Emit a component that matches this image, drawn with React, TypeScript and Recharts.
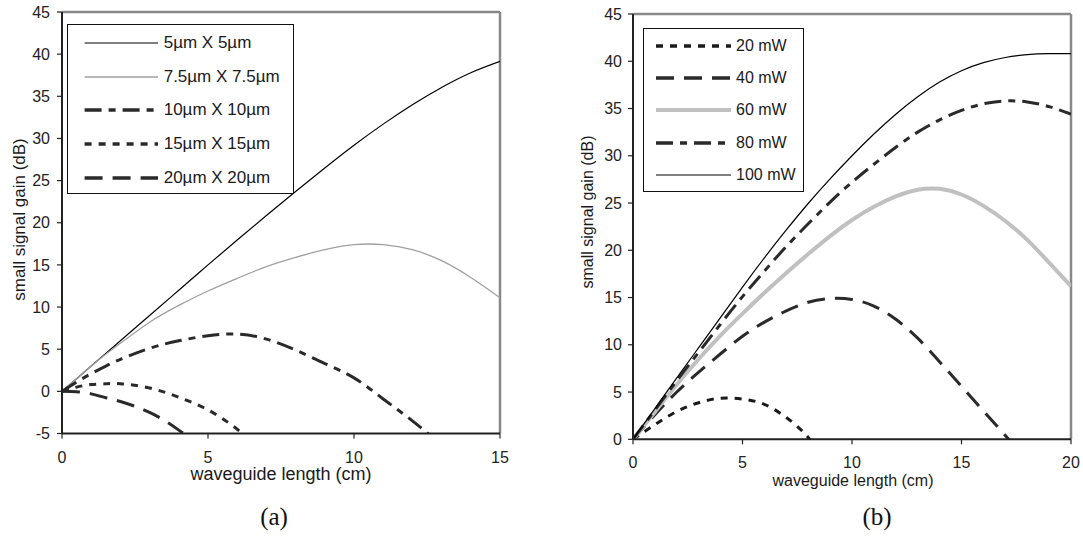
import React from 'react';
import { LineChart, Line, XAxis, YAxis, Legend, ReferenceLine } from 'recharts';

// ---------- Chart (a): gain vs waveguide length for several core sizes ----------
const lengthA = [0, 0.5, 1, 1.5, 2, 3, 4, 5, 6, 7, 8, 9, 10, 11, 12, 13, 14, 15];
const gain5um = [0, 1.5, 3.0, 4.5, 6.0, 9.0, 12.0, 15.0, 17.95, 20.85, 23.7, 26.5, 29.2, 31.7, 34.0, 36.05, 37.8, 39.15];
const gain7p5um = [0, 1.5, 3.0, 4.4, 5.7, 8.2, 10.2, 11.9, 13.4, 14.8, 15.9, 16.8, 17.4, 17.4, 16.8, 15.5, 13.5, 11.1];
const gain10um = [0, 1.1, 2.1, 3.0, 3.8, 5.1, 6.0, 6.6, 6.8, 6.2, 4.9, 3.3, 1.6, -0.9, -3.5, -6.4, null, null];
const gain15um = [0, 0.5, 0.8, 0.9, 0.9, 0.4, -0.7, -2.2, -4.5, -7.5, null, null, null, null, null, null, null, null];
const gain20um = [0, -0.05, -0.3, -0.75, -1.2, -2.5, -4.6, -7.2, null, null, null, null, null, null, null, null, null, null];
const namesA = ['5µm X 5µm', '7.5µm X 7.5µm', '10µm X 10µm', '15µm X 15µm', '20µm X 20µm'];
const xTicksA = [0, 5, 10, 15];
const yTicksA = [-5, 0, 5, 10, 15, 20, 25, 30, 35, 40, 45];

// ---------- Chart (b): gain vs waveguide length for several pump powers ----------
const lengthB = [0, 1, 2, 3, 4, 5, 6, 7, 8, 9, 10, 11, 12, 13, 14, 15, 16, 17, 18, 19, 20];
const gain20mW = [0, 1.55, 2.95, 3.87, 4.35, 4.26, 3.7, 2.3, 0.2, -3.0, null, null, null, null, null, null, null, null, null, null, null];
const gain40mW = [0, 2.6, 5.0, 7.1, 9.05, 10.9, 12.4, 13.6, 14.5, 14.9, 14.8, 14.1, 12.7, 10.7, 8.2, 5.6, 3.0, 0.4, -2.2, null, null];
const gain60mW = [0, 2.9, 5.8, 8.5, 11.0, 13.3, 15.5, 17.6, 19.6, 21.5, 23.2, 24.6, 25.7, 26.4, 26.5, 25.9, 24.7, 23.1, 21.1, 18.7, 16.2];
const gain80mW = [0, 3.1, 6.2, 9.2, 12.2, 15.1, 17.8, 20.4, 22.8, 25.1, 27.2, 29.1, 30.9, 32.5, 33.8, 34.8, 35.5, 35.8, 35.7, 35.2, 34.4];
const gain100mW = [0, 3.25, 6.5, 9.7, 12.9, 16.1, 19.2, 22.15, 24.95, 27.55, 30.0, 32.3, 34.4, 36.25, 37.8, 39.0, 39.85, 40.4, 40.7, 40.8, 40.8];
const namesB = ['20 mW', '40 mW', '60 mW', '80 mW', '100 mW'];
const xTicksB = [0, 5, 10, 15, 20];
const yTicksB = [0, 5, 10, 15, 20, 25, 30, 35, 40, 45];

const dataA = lengthA.map((x, i) => ({
  x,
  s0: gain5um[i],
  s1: gain7p5um[i],
  s2: gain10um[i],
  s3: gain15um[i],
  s4: gain20um[i],
}));

const dataB = lengthB.map((x, i) => ({
  x,
  s0: gain20mW[i],
  s1: gain40mW[i],
  s2: gain60mW[i],
  s3: gain80mW[i],
  s4: gain100mW[i],
}));

type Sty = { stroke: string; width: number; dash?: string };

const DASHDOT = '17 7 7 7';
const DOTS = '7 7';
const LONG = '18 10';

const stylesA: Sty[] = [
  { stroke: '#000', width: 1.2 },
  { stroke: '#a0a0a0', width: 1.3 },
  { stroke: '#2a2a2a', width: 3, dash: DASHDOT },
  { stroke: '#2a2a2a', width: 3, dash: DOTS },
  { stroke: '#2a2a2a', width: 3, dash: LONG },
];
const stylesB: Sty[] = [
  { stroke: '#1a1a1a', width: 3, dash: DOTS },
  { stroke: '#2a2a2a', width: 3, dash: LONG },
  { stroke: '#c0c0c0', width: 4 },
  { stroke: '#2a2a2a', width: 3, dash: DASHDOT },
  { stroke: '#000', width: 1.2 },
];

const FONT = '"Liberation Sans", Arial, sans-serif';
const tickStyle = { fill: '#222', fontSize: 16, fontFamily: FONT };

function LegendBox(props: {
  names: string[];
  styles: Sty[];
  width: number;
  height: number;
  rows: number[];
  x1: number;
  x2: number;
  textX: number;
  fontSize: number;
}) {
  const { names, styles, width, height, rows, x1, x2, textX, fontSize } = props;
  return (
    <div
      style={{
        position: 'relative',
        width,
        height,
        boxSizing: 'border-box',
        border: '1px solid #111',
        background: '#fff',
        fontFamily: FONT,
      }}
    >
      {names.map((n, i) => (
        <div key={n} style={{ position: 'absolute', left: 0, top: rows[i] - 12, height: 24, width: '100%' }}>
          <svg width={x2} height={24} style={{ position: 'absolute', left: 0, top: 0 }}>
            <line
              x1={x1}
              x2={x2}
              y1={12}
              y2={12}
              stroke={styles[i].stroke}
              strokeWidth={styles[i].width + (styles[i].dash ? 0.5 : 0)}
              strokeDasharray={styles[i].dash}
            />
          </svg>
          <span
            style={{
              position: 'absolute',
              left: textX,
              top: 0,
              lineHeight: '24px',
              fontSize,
              color: '#1a1a1a',
              whiteSpace: 'nowrap',
            }}
          >
            {n}
          </span>
        </div>
      ))}
    </div>
  );
}

const abs = (l: number, t: number): React.CSSProperties => ({ position: 'absolute', left: l, top: t });

export default function App() {
  return (
    <div style={{ position: 'absolute', left: 0, top: 0, width: 1083, height: 537, background: '#fff', overflow: 'hidden' }}>
      {/* Chart (a) */}
      <div style={abs(0, 0)}>
        <LineChart width={540} height={500} data={dataA} margin={{ top: 12, right: 40, bottom: 16.5, left: 0 }}>
          <XAxis
            dataKey="x"
            type="number"
            domain={[0, 15]}
            ticks={xTicksA}
            height={50}
            tickSize={5}
            tickMargin={13}
            tick={tickStyle}
            axisLine={{ stroke: '#222', strokeWidth: 2 }}
            tickLine={{ stroke: '#222', strokeWidth: 1.2 }}
            allowDataOverflow
          />
          <YAxis
            type="number"
            domain={[-5, 45]}
            ticks={yTicksA}
            width={62}
            tickSize={5}
            tickMargin={7}
            tick={tickStyle}
            axisLine={{ stroke: '#222', strokeWidth: 2 }}
            tickLine={{ stroke: '#222', strokeWidth: 1.2 }}
            allowDataOverflow
            interval={0}
          />
          <ReferenceLine y={45} stroke="#888" strokeWidth={2.5} />
          <ReferenceLine x={15} stroke="#888" strokeWidth={2.5} />
          {stylesA.map((s, i) => (
            <Line
              key={i}
              dataKey={'s' + i}
              name={namesA[i]}
              type="natural"
              stroke={s.stroke}
              strokeWidth={s.width}
              strokeDasharray={s.dash}
              dot={false}
              activeDot={false}
              isAnimationActive={false}
            />
          ))}
          <Legend
            layout="vertical"
            align="center"
            verticalAlign="middle"
            wrapperStyle={{ left: 66.7, top: 24, width: 227, height: 170 }}
            content={() => (
              <LegendBox
                names={namesA}
                styles={stylesA}
                width={227}
                height={170}
                rows={[18.3, 51.7, 85, 119.3, 152.7]}
                x1={16.6}
                x2={90}
                textX={96}
                fontSize={17}
              />
            )}
          />
        </LineChart>
      </div>

      {/* Chart (b) */}
      <div style={abs(540, 0)}>
        <LineChart width={543} height={500} data={dataB} margin={{ top: 14, right: 12, bottom: 10.7, left: 0 }}>
          <XAxis
            dataKey="x"
            type="number"
            domain={[0, 20]}
            ticks={xTicksB}
            height={50}
            tickSize={5}
            tickMargin={12}
            tick={tickStyle}
            axisLine={{ stroke: '#222', strokeWidth: 2 }}
            tickLine={{ stroke: '#222', strokeWidth: 1.2 }}
            allowDataOverflow
          />
          <YAxis
            type="number"
            domain={[0, 45]}
            ticks={yTicksB}
            width={93}
            tickSize={5}
            tickMargin={6}
            tick={tickStyle}
            axisLine={{ stroke: '#222', strokeWidth: 2 }}
            tickLine={{ stroke: '#222', strokeWidth: 1.2 }}
            allowDataOverflow
            interval={0}
          />
          <ReferenceLine y={45} stroke="#888" strokeWidth={2.5} />
          <ReferenceLine x={20} stroke="#888" strokeWidth={2.5} />
          {stylesB.map((s, i) => (
            <Line
              key={i}
              dataKey={'s' + i}
              name={namesB[i]}
              type="natural"
              stroke={s.stroke}
              strokeWidth={s.width}
              strokeDasharray={s.dash}
              dot={false}
              activeDot={false}
              isAnimationActive={false}
            />
          ))}
          <Legend
            layout="vertical"
            align="center"
            verticalAlign="middle"
            wrapperStyle={{ left: 103, top: 28, width: 161, height: 164 }}
            content={() => (
              <LegendBox
                names={namesB}
                styles={stylesB}
                width={161}
                height={164}
                rows={[17, 48.7, 81, 113.7, 146]}
                x1={12}
                x2={87}
                textX={92}
                fontSize={16}
              />
            )}
          />
        </LineChart>
      </div>

      {/* Axis titles and captions */}
      <div style={{ ...abs(131, 465), width: 300, textAlign: 'center', fontFamily: FONT, fontSize: 18, lineHeight: '18px', color: '#1a1a1a' }}>
        waveguide length (cm)
      </div>
      <div
        style={{
          ...abs(19 - 125, 219.5 - 8.5),
          width: 250,
          height: 17,
          textAlign: 'center',
          fontFamily: FONT,
          fontSize: 17,
          lineHeight: '17px',
          color: '#1a1a1a',
          transform: 'rotate(-90deg)',
          whiteSpace: 'nowrap',
        }}
      >
        small signal gain (dB)
      </div>
      <div style={{ ...abs(853 - 150, 473), width: 300, textAlign: 'center', fontFamily: FONT, fontSize: 16, lineHeight: '16px', color: '#1a1a1a' }}>
        waveguide length (cm)
      </div>
      <div
        style={{
          ...abs(588 - 125, 212 - 8),
          width: 250,
          height: 16,
          textAlign: 'center',
          fontFamily: FONT,
          fontSize: 16,
          lineHeight: '16px',
          color: '#1a1a1a',
          transform: 'rotate(-90deg)',
          whiteSpace: 'nowrap',
        }}
      >
        small signal gain (dB)
      </div>
      <div style={{ ...abs(274 - 50, 504), width: 100, textAlign: 'center', fontFamily: '"Liberation Serif", "Times New Roman", serif', fontSize: 25, lineHeight: '26px', color: '#111' }}>
        (a)
      </div>
      <div style={{ ...abs(877 - 50, 504), width: 100, textAlign: 'center', fontFamily: '"Liberation Serif", "Times New Roman", serif', fontSize: 25, lineHeight: '26px', color: '#111' }}>
        (b)
      </div>
    </div>
  );
}
